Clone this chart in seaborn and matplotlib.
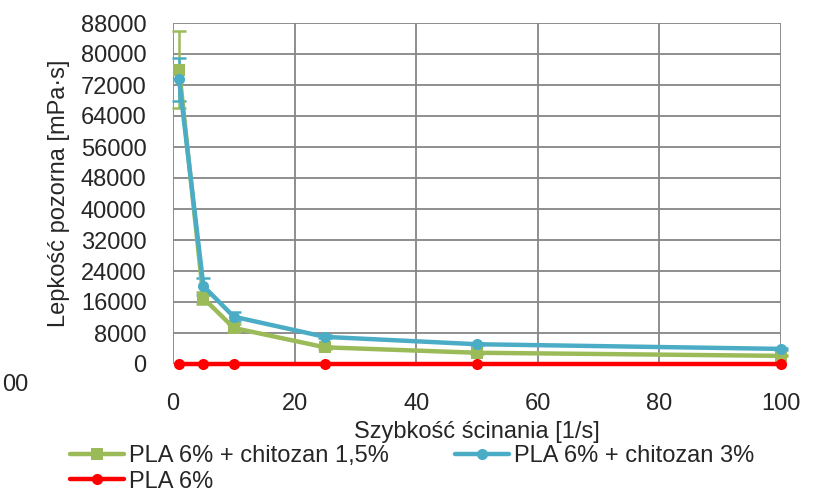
import numpy as np
import pandas as pd
import seaborn as sns
import matplotlib.pyplot as plt

sns.set_style('white')
plt.rcParams['font.family'] = ['Liberation Sans', 'DejaVu Sans']

shear_rate = [1, 5, 10, 25, 50, 100]
series_names = ['PLA 6% + chitozan 1,5%', 'PLA 6% + chitozan 3%', 'PLA 6%']
visc_ch15 = [76000, 17000, 9300, 4300, 2900, 2100]
err_ch15 = [10000, 1500, 1000, 300, 200, 150]
visc_ch3 = [73500, 20100, 12200, 7000, 5100, 3900]
err_ch3 = [5500, 2200, 1200, 400, 300, 200]
visc_pla = [0, 0, 0, 0, 0, 0]
y_ticks = list(range(0, 88001, 8000))
x_ticks = [0, 20, 40, 60, 80, 100]

colors = {series_names[0]: '#9BBB59', series_names[1]: '#4BACC6', series_names[2]: '#FF0000'}
markers = {series_names[0]: 's', series_names[1]: 'o', series_names[2]: 'o'}

df = pd.concat([
    pd.DataFrame({'x': shear_rate, 'y': visc_ch15, 'err': err_ch15, 'name': series_names[0]}),
    pd.DataFrame({'x': shear_rate, 'y': visc_ch3, 'err': err_ch3, 'name': series_names[1]}),
    pd.DataFrame({'x': shear_rate, 'y': visc_pla, 'err': 0, 'name': series_names[2]}),
])

fig = plt.figure(figsize=(8.27, 4.93), dpi=100)
ax = fig.add_axes([173 / 827, 1 - 364 / 493, 608 / 827, 341 / 493])

for name in series_names[:2]:
    d = df[df['name'] == name]
    ax.errorbar(d['x'], d['y'], yerr=d['err'], fmt='none', ecolor=colors[name],
                elinewidth=1.8, capsize=5, capthick=1.8, zorder=3)

sns.lineplot(data=df, x='x', y='y', hue='name', style='name', hue_order=series_names,
             style_order=series_names, palette=colors, markers=markers, dashes=False,
             linewidth=3.2, markersize=8, markeredgewidth=0, ax=ax, zorder=4)
for line in ax.get_lines():
    line.set_clip_on(False)

ax.set_xlim(0, 100)
ax.set_ylim(0, 88000)
ax.set_xticks(x_ticks)
ax.set_yticks(y_ticks)
ax.set_xticklabels([str(t) for t in x_ticks], fontsize=17)
ax.set_yticklabels([str(t) for t in y_ticks], fontsize=17)
ax.grid(True, color='#868686', linewidth=1.3)
ax.set_axisbelow(True)
for s in ax.spines.values():
    s.set_visible(False)
ax.tick_params(axis='both', length=6, color='#868686', width=1.3)
ax.tick_params(axis='y', pad=13)
ax.tick_params(axis='x', pad=15)

ax.set_xlabel('Szybkość ścinania [1/s]', fontsize=17, labelpad=4)
ax.set_ylabel('Lepkość pozorna [mPa·s]', fontsize=17, labelpad=8)

fig.text(2 / 827, 1 - 385 / 493, '00', fontsize=17, va='center')

handles, labels = ax.get_legend_handles_labels()
order = [labels.index(n) for n in [series_names[0], series_names[2], series_names[1]]]
ax.legend([handles[i] for i in order], [labels[i] for i in order], ncol=2,
          loc='upper left', bbox_to_anchor=(70 / 827, 1 - 445 / 493),
          bbox_transform=fig.transFigure, frameon=False, fontsize=17,
          handlelength=2.3, handletextpad=0.2, columnspacing=2.8,
          labelspacing=0.15, borderaxespad=0, borderpad=0)

fig.savefig('out.png', dpi=100)
